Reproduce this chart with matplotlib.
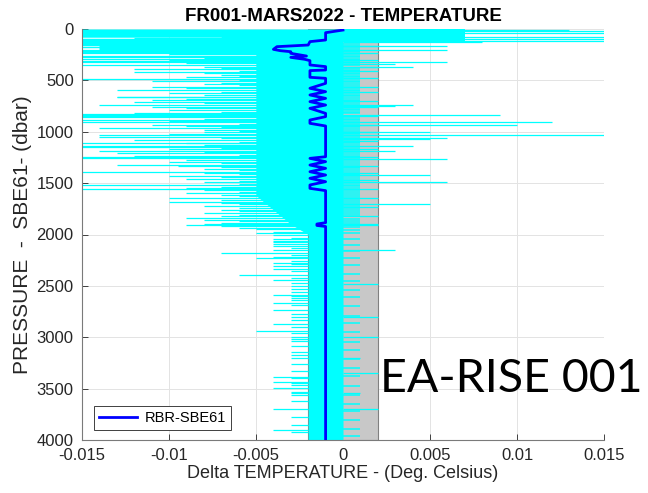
import numpy as np
import matplotlib.pyplot as plt

# ---- data ----
# mean RBR - SBE61 temperature difference profile
mean_p = [10, 36, 107, 123, 156, 172, 198, 211, 221, 237, 263, 276, 295, 308, 350, 366,
          399, 405, 470, 480, 529, 577, 610, 642, 675, 707, 740, 772, 821, 853, 886, 918,
          944, 1243, 1259, 1291, 1324, 1356, 1389, 1421, 1453, 1486, 1518, 1551, 1573,
          1885, 1898, 1912, 1922, 3990]
mean_dt = [0.0, -0.001, -0.001, -0.0019, -0.002, -0.0038, -0.004, -0.0036, -0.003, -0.003,
           -0.0021, -0.003, -0.0022, -0.0019, -0.0019, -0.001, -0.001, -0.0019, -0.0019,
           -0.001, -0.001, -0.0019, -0.001, -0.0019, -0.001, -0.0019, -0.001, -0.0019,
           -0.001, -0.001, -0.0019, -0.0019, -0.001, -0.001, -0.0019, -0.001, -0.0019,
           -0.001, -0.0019, -0.001, -0.0019, -0.001, -0.0019, -0.0019, -0.001,
           -0.001, -0.0015, -0.0015, -0.001, -0.001]

# dense part of the individual difference profiles (left envelope, right edge = 0)
core_p = [0, 80, 80, 240, 240, 1620, 1760, 1900, 2000, 4000]
core_left = [-0.016, -0.016, -0.007, -0.007, -0.005, -0.005, -0.004, -0.003, -0.002, -0.002]
# near-surface block extending to the warm side
top_p = [0, 130]
top_right = [0.007, 0.007]

# negative spikes (pressure, delta T)
neg_p = [88, 95, 102, 110, 118, 125, 130, 140, 150, 158, 165, 172, 180, 188, 195, 205, 212,
         220, 228, 236,
         248, 258, 265, 272, 282, 290, 300, 312, 322, 335, 350, 365, 378, 390, 405, 418, 432,
         445, 458, 470, 482, 495,
         510, 522, 535, 548, 561, 575, 594, 610, 625, 640, 659, 665, 680, 695, 707, 720, 740,
         755, 772, 790, 805, 814, 827, 837, 847, 860, 873, 886, 897, 908, 920, 932, 944, 955,
         967, 980, 990,
         1005, 1018, 1032, 1048, 1060, 1080, 1095, 1105, 1113, 1125, 1135, 1145, 1160, 1172,
         1184, 1197, 1210, 1225, 1236, 1243, 1259, 1275, 1291, 1305, 1323, 1333, 1346, 1360,
         1372, 1388, 1400, 1415, 1430, 1445, 1460, 1475, 1490,
         1505, 1520, 1535, 1545, 1557, 1570, 1585, 1600, 1615, 1630, 1645, 1660, 1681, 1690,
         1705, 1720, 1740, 1760, 1775, 1794, 1808, 1820, 1843, 1855, 1870, 1885, 1898, 1908,
         1920, 1935, 1950, 1975, 1990, 2005,
         2030, 2045, 2060, 2075, 2090, 2110, 2130, 2150, 2177, 2195,
         2215, 2232, 2260, 2275, 2290, 2310, 2339, 2360, 2394, 2420,
         2443, 2470, 2500, 2530, 2560, 2585, 2600, 2620, 2640, 2665,
         2690, 2735, 2770, 2800, 2830, 2870, 2900, 2936, 2960, 2994,
         3015, 3040, 3090, 3140, 3170, 3200, 3260, 3330, 3387, 3400,
         3432, 3450, 3465, 3497, 3530, 3546, 3560, 3620, 3700, 3780,
         3850, 3905, 3919]
neg_dt = [-0.012, -0.016, -0.016, -0.016, -0.016, -0.009, -0.016, -0.016, -0.016, -0.016,
          -0.014, -0.016, -0.016, -0.014, -0.014, -0.016, -0.016, -0.011, -0.016, -0.016,
          -0.010, -0.016, -0.010, -0.016, -0.008, -0.016, -0.010, -0.016, -0.016, -0.009,
          -0.016, -0.008, -0.007, -0.012, -0.006, -0.012, -0.008, -0.007, -0.006, -0.009,
          -0.016, -0.006,
          -0.011, -0.007, -0.008, -0.006, -0.011, -0.009, -0.013, -0.007, -0.010, -0.008,
          -0.013, -0.013, -0.009, -0.011, -0.012, -0.008, -0.014, -0.011, -0.009, -0.010,
          -0.007, -0.012, -0.016, -0.016, -0.016, -0.016, -0.008, -0.016, -0.010, -0.016,
          -0.006, -0.011, -0.009, -0.007, -0.014, -0.008, -0.006,
          -0.008, -0.010, -0.014, -0.014, -0.007, -0.012, -0.006, -0.009, -0.016, -0.008,
          -0.016, -0.016, -0.007, -0.010, -0.014, -0.008, -0.013, -0.006, -0.012, -0.016,
          -0.016, -0.009, -0.010, -0.007, -0.013, -0.0095, -0.007, -0.008, -0.006, -0.016,
          -0.008, -0.006, -0.010, -0.007, -0.009, -0.006, -0.008,
          -0.006, -0.016, -0.007, -0.009, -0.016, -0.008, -0.006, -0.009, -0.007, -0.006,
          -0.010, -0.007, -0.010, -0.007, -0.006, -0.008, -0.006, -0.007, -0.006, -0.008,
          -0.006, -0.007, -0.009, -0.008, -0.006, -0.007, -0.008, -0.009, -0.007, -0.006,
          -0.005, -0.004, -0.005, -0.004,
          -0.003, -0.004, -0.004, -0.004, -0.004, -0.004, -0.003, -0.004, -0.007, -0.003,
          -0.004, -0.005, -0.003, -0.004, -0.003, -0.004, -0.004, -0.003, -0.006, -0.003,
          -0.004, -0.003, -0.003, -0.003, -0.003, -0.004, -0.003, -0.003, -0.003, -0.004,
          -0.003, -0.004, -0.003, -0.003, -0.003, -0.004, -0.003, -0.005, -0.003, -0.003,
          -0.003, -0.003, -0.003, -0.003, -0.003, -0.003, -0.003, -0.003, -0.004, -0.003,
          -0.004, -0.003, -0.003, -0.004, -0.003, -0.003, -0.003, -0.003, -0.004, -0.003,
          -0.003, -0.004, -0.003]

# positive spikes (pressure, delta T)
pos_p = [5, 20, 40, 75, 97, 117, 123, 162, 204, 318, 340, 367, 740, 748, 837, 908, 934, 999,
         1032, 1064, 1075, 1139, 1184, 1268, 1421, 1486, 1700, 1908, 2151, 2800, 3203, 3539]
pos_dt = [0.013, 0.016, 0.016, 0.016, 0.016, 0.016, 0.008, 0.006, 0.006, 0.006, 0.003, 0.004,
          0.004, 0.003, 0.009, 0.012, 0.010, 0.005, 0.015, 0.006, 0.005, 0.004, 0.003, 0.006,
          0.005, 0.006, 0.005, 0.002, 0.003, 0.002, 0.001, 0.001]

# small warm excursions inside the +/-0.002 band
step1_p = [150, 165, 180, 192, 215, 228, 245, 262, 275, 290, 305, 322, 335, 352, 380, 395,
           410, 425, 440, 455, 470, 490, 505, 520, 540, 555, 570, 590, 605, 620, 640, 655,
           670, 690, 705, 720, 735, 760, 775, 790, 805, 820, 845, 860, 875, 890, 905, 925,
           940, 955, 970, 990, 1010, 1025, 1045, 1060, 1080, 1095, 1110, 1130, 1150, 1165,
           1180, 1200, 1215, 1235, 1250, 1270, 1285, 1300, 1320, 1340, 1355, 1370, 1390,
           1410, 1425, 1440, 1460, 1480, 1500, 1515, 1530, 1550, 1570, 1590, 1610, 1625,
           1645, 1665, 1680, 1700, 1720, 1740, 1760, 1780, 1800, 1820, 1845, 1865, 1885,
           1905, 1930, 1955, 1985, 2040, 2100, 2160, 2230, 2300, 2380, 2450, 2540, 2610,
           2700, 2790, 2860, 2950, 3050, 3120, 3210, 3300, 3380, 3470, 3560, 3650, 3720,
           3810, 3890, 3960]
step2_p = [170, 230, 300, 365, 410, 480, 560, 610, 700, 760, 850, 930, 1000, 1090, 1170,
           1250, 1330, 1400, 1470, 1560, 1640, 1730, 1820, 1900, 2480, 3000, 3350, 3700]

band_lo, band_hi = -0.002, 0.002

xticks = [-0.015, -0.01, -0.005, 0, 0.005, 0.01, 0.015]
xtick_labels = ['-0.015', '-0.01', '-0.005', '0', '0.005', '0.01', '0.015']
yticks = [0, 500, 1000, 1500, 2000, 2500, 3000, 3500, 4000]

plt.rcParams['font.family'] = ['Liberation Sans', 'DejaVu Sans']

fig = plt.figure(figsize=(6.48, 4.93), dpi=100)
ax = fig.add_axes([82 / 648, 1 - 440 / 493, 522 / 648, 411 / 493])

ax.fill_betweenx([0, 4000], band_lo, band_hi, facecolor='#c8c8c8', edgecolor='#808080',
                 lw=0.8, zorder=1)

cyan = '#00ffff'
ax.fill_betweenx(core_p, core_left, 0, color=cyan, lw=0, zorder=2)
ax.fill_betweenx(top_p, 0, top_right, color=cyan, lw=0, zorder=2)
ax.hlines(neg_p, -0.002, neg_dt, colors=cyan, lw=0.9, zorder=2)
ax.hlines(pos_p, 0, pos_dt, colors=cyan, lw=0.9, zorder=2)
ax.hlines(step1_p, 0, 0.001, colors=cyan, lw=1.1, zorder=2)
ax.hlines(step2_p, 0, 0.002, colors=cyan, lw=0.9, zorder=2)

ax.plot(mean_dt, mean_p, color='#0000ff', lw=2.0, zorder=3, label='RBR-SBE61')

ax.set_xlim(-0.015, 0.015)
ax.set_ylim(4000, 0)
ax.set_xticks(xticks)
ax.set_xticklabels(xtick_labels)
ax.set_yticks(yticks)
ax.tick_params(direction='in', length=4, labelsize=12, colors='#262626', width=0.6,
               top=False, right=False)
ax.tick_params(axis='x', pad=6)
ax.tick_params(axis='y', pad=6)
for s in ['top', 'right']:
    ax.spines[s].set_visible(False)
for s in ['left', 'bottom']:
    ax.spines[s].set_color('#7a7a7a')
    ax.spines[s].set_linewidth(0.8)
ax.grid(True, color='#e3e3e3', lw=0.7, zorder=0)
ax.set_axisbelow(True)

ax.set_title('FR001-MARS2022 - TEMPERATURE', fontsize=13.5, fontweight='bold', pad=6)
ax.set_xlabel('Delta TEMPERATURE - (Deg. Celsius)', fontsize=13, color='#262626', labelpad=1)
ax.set_ylabel('PRESSURE  -  SBE61- (dbar)', fontsize=15, color='#262626', labelpad=3)

leg = ax.legend(loc='lower left', bbox_to_anchor=(12 / 522, 10 / 411), borderaxespad=0,
                fontsize=10.5, fancybox=False, framealpha=1, edgecolor='#404040',
                handlelength=2.6, borderpad=0.35, handletextpad=0.5)
leg.get_frame().set_linewidth(0.7)
leg.set_zorder(5)

fig.text(380 / 648, 1 - 392 / 493, 'EA-RISE 001', fontsize=33.5, family='Lato',
         ha='left', va='baseline', color='black')

fig.savefig('out.png', dpi=100)
